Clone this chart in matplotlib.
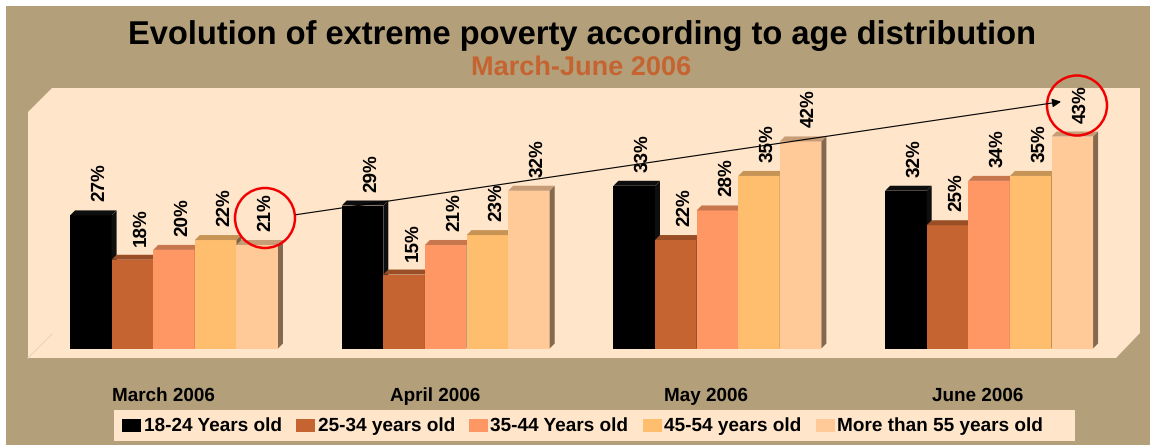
#!/usr/bin/env python
"""Evolution of extreme poverty by age group, March-June 2006."""
import matplotlib
matplotlib.use("Agg")
import matplotlib.pyplot as plt
from matplotlib.colors import to_rgb
from matplotlib.patches import Ellipse, Polygon, Rectangle

months = ["March 2006", "April 2006", "May 2006", "June 2006"]
age_groups = ["18-24 Years old", "25-34 years old", "35-44 Years old",
              "45-54 years old", "More than 55 years old"]
values = {
    "18-24 Years old": [27, 29, 33, 32],
    "25-34 years old": [18, 15, 22, 25],
    "35-44 Years old": [20, 21, 28, 34],
    "45-54 years old": [22, 23, 35, 35],
    "More than 55 years old": [21, 32, 42, 43],
}
colors = ["#000000", "#C56431", "#FF9764", "#FFBE6E", "#FFC998"]

W, H = 1150, 445
BG = "#B3A07A"
PANEL = "#FFE6CB"
plt.rcParams["font.family"] = ["Liberation Sans", "DejaVu Sans"]
plt.rcParams["font.weight"] = "bold"
plt.rcParams["text.hinting"] = "none"

fig = plt.figure(figsize=(W / 100, H / 100), dpi=100, facecolor="white")

# pixel axes for the slide decoration
deco = fig.add_axes([0, 0, 1, 1], zorder=0)
deco.set_xlim(0, W)
deco.set_ylim(H, 0)
deco.axis("off")
deco.add_patch(Rectangle((6, 6), W - 6, H - 6, fc=BG, ec="none"))
deco.add_patch(Polygon([(28, 112), (52, 88), (1140, 88), (1140, 333),
                        (1116, 358), (28, 358)], fc=PANEL, ec="none"))
deco.plot([28, 52], [358, 334], color="#EAD3B6", lw=0.8)
deco.add_patch(Rectangle((114, 410), 961, 31, fc=PANEL, ec="none"))

# bars: x in month units, y in percent, scales lined up with the slide
PX_X = 271.7
PX_Y = 4.93
X0, Y0 = 174.0, 348.5
ax = fig.add_axes([0, 0, 1, 1], zorder=1)
ax.set_xlim(-X0 / PX_X, (W - X0) / PX_X)
ax.set_ylim(-(H - Y0) / PX_Y, Y0 / PX_Y)
ax.axis("off")
ax.patch.set_alpha(0)

bw = 41.6 / PX_X
dx = 5 / PX_X
dy = 5 / PX_Y


def shade(c, f):
    return tuple(v * f for v in to_rgb(c))


for m in range(len(months)):
    for i, group in enumerate(age_groups):
        v = values[group][m]
        c = colors[i]
        left = m + (i - 2.5) * bw
        z = 2 + i
        ax.bar(left, v, width=bw, align="edge", color=c, zorder=z)
        top_c = "#0E0E0E" if i == 0 else shade(c, 0.78)
        side_c = "#0E0E0E" if i == 0 else shade(c, 0.52)
        ax.add_patch(Polygon([(left, v), (left + dx, v + dy), (left + bw + dx, v + dy),
                              (left + bw, v)], fc=top_c, ec="none", zorder=z))
        ax.add_patch(Polygon([(left + bw, 0), (left + bw + dx, dy), (left + bw + dx, v + dy),
                              (left + bw, v)], fc=side_c, ec="none", zorder=z))
        ax.text(left + bw / 2 + 8.5 / PX_X, v + 14 / PX_Y, f"{v}%", rotation=90,
                ha="center", va="bottom", fontsize=13.6, color="black", zorder=20)

for month, px in zip(months, [163.5, 435, 706, 978]):
    deco.text(px, 401, month, ha="center", va="baseline", fontsize=13.6)

# overlay: title, circles, arrow
top = fig.add_axes([0, 0, 1, 1], zorder=2)
top.set_xlim(0, W)
top.set_ylim(H, 0)
top.axis("off")
top.patch.set_alpha(0)
top.text(581.5, 44, "Evolution of extreme poverty according to age distribution",
         ha="center", va="baseline", fontsize=23.5, color="black")
top.text(581.5, 75, "March-June 2006", ha="center", va="baseline", fontsize=19.5, color="#C56431")
top.annotate("", xy=(1061, 101.7), xytext=(296, 214.7),
             arrowprops=dict(arrowstyle="-|>", color="black", lw=0.8, mutation_scale=13,
                             shrinkA=0, shrinkB=0))
for cx, cy in [(265, 218), (1077, 105.5)]:
    top.add_patch(Ellipse((cx, cy), 60, 60, fc="none", ec="#F00000", lw=1.8))

# legend drawn by hand to keep the slide spacing
for c, label, sx, tx in zip(colors, age_groups, [122, 296, 469, 643, 816],
                            [144, 318, 490.5, 664.5, 837]):
    top.add_patch(Rectangle((sx, 418.5), 19, 13.5, fc=c, ec="none"))
    top.text(tx, 431, label, ha="left", va="baseline", fontsize=13.7, color="black")

fig.savefig("out.png", dpi=100)
